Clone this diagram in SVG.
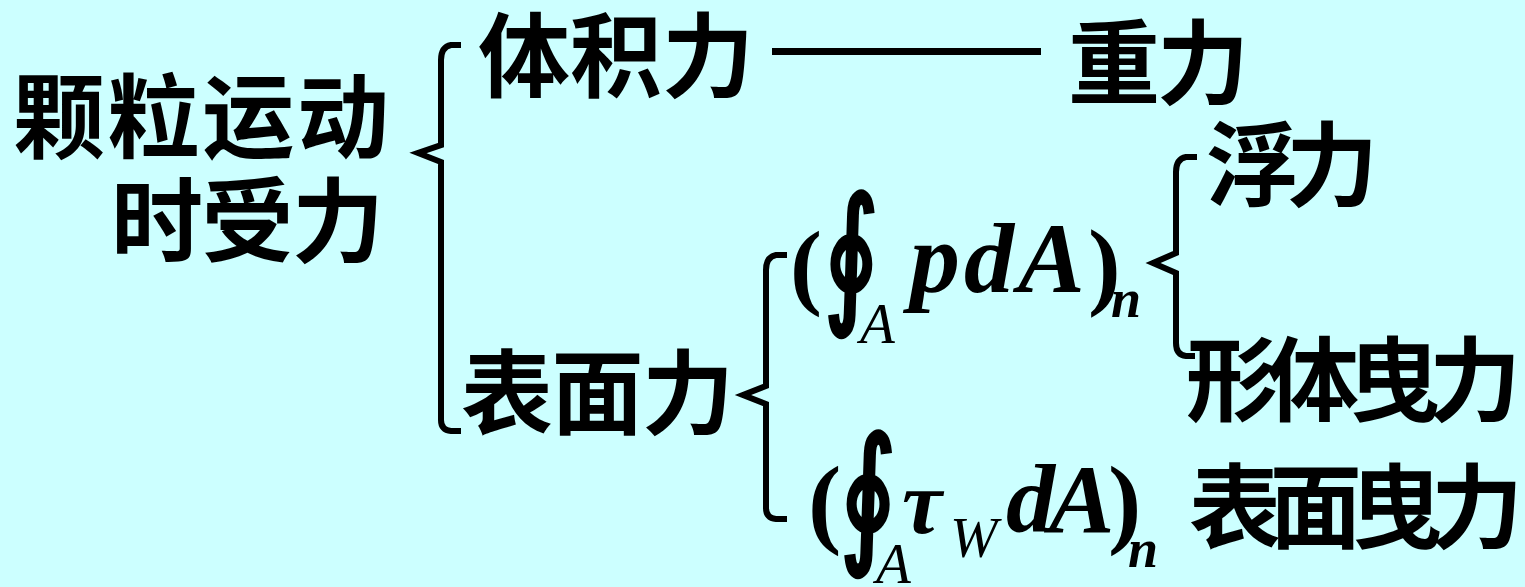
<svg xmlns="http://www.w3.org/2000/svg" width="1525" height="587" viewBox="0 0 1525 587">
<style>
.zh{font-family:"Noto Sans CJK SC","Noto Sans CJK TC",sans-serif;font-weight:bold;font-size:92px;fill:#000}
.m{font-family:"Liberation Serif",serif;fill:#000}
.bi{font-weight:bold;font-style:italic}
.it{font-style:italic}
.b{font-weight:bold}
.oint{font-family:"DejaVu Serif",serif;font-weight:bold;font-size:150px;fill:#000}
.brace{fill:none;stroke:#000;stroke-width:6;stroke-linejoin:miter;stroke-linecap:butt}
</style>
<rect x="0" y="0" width="1525" height="587" fill="#CCFFFF"/>
<g id="connectors">
<path class="brace" d="M461,45 H451 Q441,47 441,60 V145 L418,153 L441,162 V420 Q441,430 451,431 H461"/>
<path class="brace" d="M787,255 H776 Q766,257 766,270 V386 L743,395 L766,404 V508 Q766,518 776,519 H787"/>
<path class="brace" d="M1197,157 H1186 Q1176,159 1176,172 V253 L1153,263 L1176,273 V343 Q1176,355 1186,356 H1195"/>
<line x1="772" y1="51.5" x2="1041" y2="51.5" stroke="#000" stroke-width="7"/>
</g>
<g id="n_root"><text class="zh" x="13" y="151" textLength="376" font-size="94">颗粒运动</text>
<text class="zh" x="111" y="255" textLength="273">时受力</text></g>
<g id="n_body"><text class="zh" x="478" y="90" textLength="276">体积力</text></g>
<g id="n_gravity"><text class="zh" x="1068" y="97" textLength="181">重力</text></g>
<g id="n_surface"><text class="zh" x="461" y="427" textLength="273">表面力</text></g>
<g id="n_pressure">
<text class="m b" x="790" y="297" font-size="96">(</text>
<text class="oint" transform="translate(824,305) scale(0.7,1)" x="0" y="0">∮</text>
<text class="m it" x="860" y="343" font-size="57">A</text>
<text class="m bi" x="910" y="292" font-size="100" letter-spacing="4">pdA</text>
<text class="m b" x="1088" y="297" font-size="98">)</text>
<text class="m bi" x="1111" y="317" font-size="54">n</text>
</g>
<g id="n_buoyancy"><text class="zh" x="1206" y="199" textLength="172">浮力</text></g>
<g id="n_formdrag"><text class="zh" x="1186" y="414" textLength="335">形体曳力</text></g>
<g id="n_shear">
<text class="m b" x="808" y="535" font-size="100">(</text>
<text class="oint" transform="translate(840,545) scale(0.72,1)" x="0" y="0">∮</text>
<text class="m it" x="876" y="583" font-size="57">A</text>
<text class="m bi" x="902" y="533" font-size="90">τ</text>
<text class="m it" x="950" y="557" font-size="57">W</text>
<text class="m bi" x="1006" y="532" font-size="98" letter-spacing="-6">dA</text>
<text class="m b" x="1108" y="535" font-size="100">)</text>
<text class="m bi" x="1128" y="567" font-size="54">n</text>
</g>
<g id="n_skindrag"><text class="zh" x="1189" y="541" textLength="334">表面曳力</text></g>
</svg>
